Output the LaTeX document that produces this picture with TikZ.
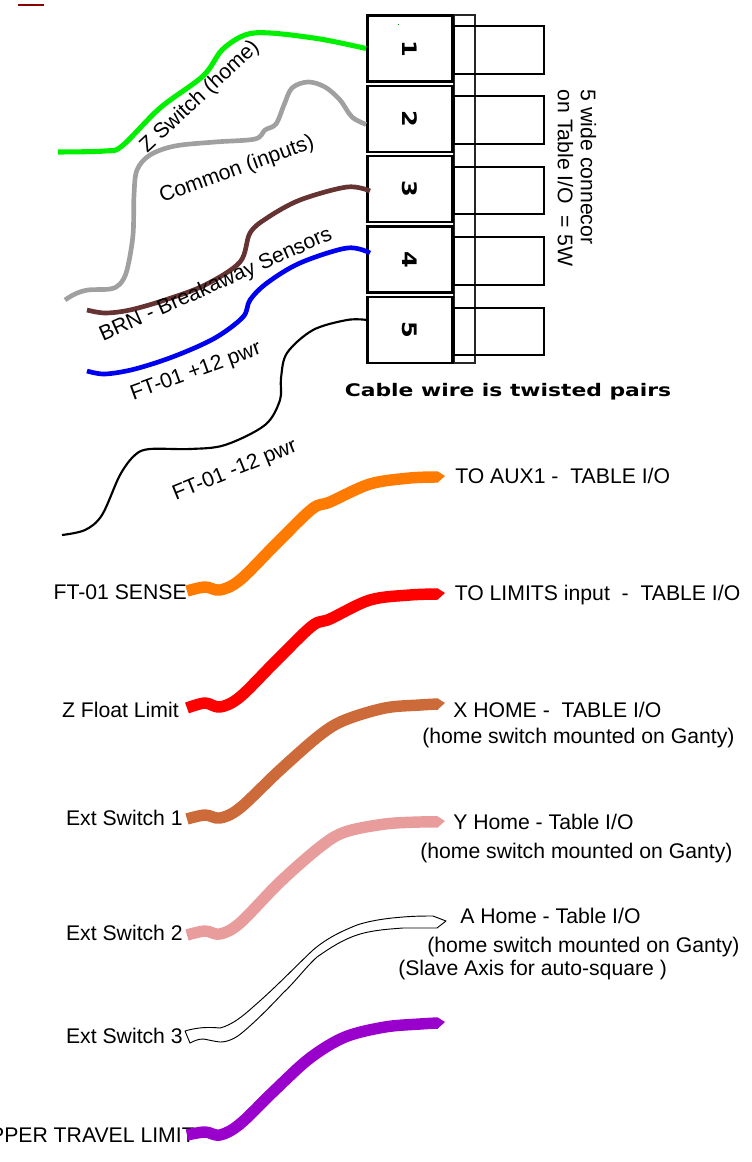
\documentclass[tikz,border=0pt]{standalone}
\usepackage{fontspec}
\setmainfont{Liberation Sans}
\newfontfamily\widefont{DejaVu Sans}
\definecolor{wgreen}{HTML}{00F000}
\definecolor{wgray}{HTML}{A0A0A0}
\definecolor{wbrown}{HTML}{663333}
\definecolor{wblue}{HTML}{0000F0}
\definecolor{worange}{HTML}{FF7A00}
\definecolor{wred}{HTML}{FF0000}
\definecolor{wcopper}{HTML}{CC6B39}
\definecolor{wpink}{HTML}{E99C9C}
\definecolor{wpurple}{HTML}{9900CC}
\tikzset{
  numbox/.style={draw=black,line width=1.9pt,fill=white,minimum width=64pt,minimum height=49.5pt,inner sep=0pt,font=\widefont\bfseries\fontsize{15}{17}\selectfont},
  pinbox/.style={draw=black,line width=1.5pt,minimum width=67.5pt,minimum height=35.5pt,inner sep=0pt},
  shellbox/.style={draw=black!85,line width=1.5pt,minimum width=15.5pt,minimum height=261pt,inner sep=0pt},
  thinwire/.style={line width=3.5pt,line cap=butt,line join=round},
  fatwire/.style={line width=8.6pt,line cap=butt,line join=round},
  lbl/.style={inner sep=0pt,font=\fontsize{15.9}{18}\selectfont},
  lblr/.style={lbl,anchor=east},
  lbll/.style={lbl,anchor=west},
}
\begin{document}
\begin{tikzpicture}[x=0.75pt,y=-0.75pt]
\useasboundingbox (0,0) rectangle (751,1162);
% mark top-left
\draw[color=red!55!black,line width=1.5pt] (18,5) -- (44,5);
% connector
\node[shellbox] (shell) at (464.5,189) {};
\foreach \i/\y in {p1/50,p2/120,p3/190.5,p4/261,p5/331.5}
  \node[pinbox] (\i) at (499,\y) {};
\node[numbox] (b1) at (410,48.5) {\rotatebox{-90}{\scalebox{1.2}[1]{1}}};
\node[numbox] (b2) at (410,119) {\rotatebox{-90}{\scalebox{1.2}[1]{2}}};
\node[numbox] (b3) at (410,189) {\rotatebox{-90}{\scalebox{1.2}[1]{3}}};
\node[numbox] (b4) at (410,259.5) {\rotatebox{-90}{\scalebox{1.2}[1]{4}}};
\node[numbox] (b5) at (410,330) {\rotatebox{-90}{\scalebox{1.2}[1]{5}}};
\fill[green!60!black] (397.5,24.5) rectangle (398.5,25.5);
% free ends
\coordinate (g0) at (58,152);
\coordinate (s0) at (65,300);
\coordinate (r0) at (87,310);
\coordinate (u0) at (87,371);
\coordinate (k0) at (62,535);
% upper wires
\draw[thinwire,wgreen,line width=3.8pt] plot[smooth,tension=0.55] coordinates {(g0) (105,151) (122,146) (160,108) (203,76) (222,50) (245,35) (270,33) (320,39) (b1.west)};
\draw[thinwire,wgray] plot[smooth,tension=0.55] coordinates {(s0) (75,294) (88,290) (110,289) (120,284) (127,270) (133,235) (134,195) (137,170) (150,155) (175,146) (215,142) (255,139) (265,130) (276,124) (284,105) (292,88) (308,82) (325,87) (340,100) (352,117) (b2.187)};
\draw[thinwire,wbrown] plot[smooth,tension=0.55] coordinates {(r0) (105,313) (130,310) (165,300) (205,285) (240,262) (250,233) (267,218) (300,200) (347,187) (370,191)};
\draw[thinwire,wblue] plot[smooth,tension=0.55] coordinates {(u0) (105,374) (135,369) (175,356) (215,338) (243,317) (250,300) (267,283) (300,263) (347,248) (370,253)};
\draw[black,line width=1.6pt] plot[smooth,tension=0.55] coordinates {(k0) (85,530) (102,515) (120,475) (135,455) (150,449) (190,449) (225,445) (265,425) (280,400) (281,378) (287,353) (313,330) (347,320) (b5.167)};
% left and right labels of the fat wires
\node[lblr] (tl1) at (187,592) {FT-01 SENSE};
\node[lblr] (tl2) at (179,710) {Z Float Limit};
\node[lblr] (tl3) at (183,818) {Ext Switch 1};
\node[lblr] (tl4) at (183,933) {Ext Switch 2};
\node[lblr] (tl5) at (183,1036) {Ext Switch 3};
\node[lblr] (tl6) at (195,1135) {UPPER TRAVEL LIMIT};
\node[lbll] (tr1) at (455,476) {TO AUX1 -\ \ TABLE I/O};
\node[lbll] (tr2) at (454.5,595) {TO LIMITS input \ -\ \ TABLE I/O};
\node[lbll] (tr3) at (453,710) {X HOME - \ TABLE I/O};
\node[lbll] (tr3b) at (422,738) {(home switch mounted on Ganty)};
\node[lbll] (tr4) at (453,822) {Y Home - Table I/O};
\node[lbll] (tr4b) at (420,853) {(home switch mounted on Ganty)};
\node[lbll] (tr5) at (460,916) {A Home - Table I/O};
\node[lbll] (tr5b) at (427,947) {(home switch mounted on Ganty)};
\node[lbll] (tr5c) at (398,970) {(Slave Axis for auto-square )};
% fat wires
\coordinate (f1a) at (187,591); \coordinate (f1b) at (438,477);
\coordinate (f2a) at (187,708); \coordinate (f2b) at (438,594);
\coordinate (f3a) at (187,819); \coordinate (f3b) at (438,704);
\coordinate (f4a) at (187,935); \coordinate (f4b) at (438,822);
\coordinate (f6a) at (187,1135); \coordinate (f6b) at (438,1023);
\draw[fatwire,worange] plot[smooth,tension=0.55] coordinates {(f1a) (205,587) (220,590) (240,580) (275,545) (312,509) (330,502) (370,484) (410,478) (f1b)};
\fill[worange] (437.5,471.3) -- (445,476) -- (437.5,482.7) -- cycle;
\draw[fatwire,wred] plot[smooth,tension=0.55] coordinates {(f2a) (205,703) (220,707) (240,697) (275,662) (312,626) (330,619) (370,600) (410,595) (f2b)};
\fill[wred] (437.5,588.3) -- (445,593) -- (437.5,599.7) -- cycle;
\draw[fatwire,wcopper] plot[smooth,tension=0.55] coordinates {(f3a) (205,815) (220,818) (240,808) (280,770) (320,735) (345,720) (385,708) (420,705) (f3b)};
\fill[wcopper] (437.5,698.3) -- (445,703) -- (437.5,709.7) -- cycle;
\draw[fatwire,wpink] plot[smooth,tension=0.55] coordinates {(f4a) (205,931) (220,934) (240,923) (280,882) (320,847) (345,832) (385,824) (420,822) (f4b)};
\fill[wpink] (437.5,816.3) -- (445,821) -- (437.5,827.7) -- cycle;
\draw[fatwire,wpurple] plot[smooth,tension=0.55] coordinates {(f6a) (205,1132) (220,1135) (240,1124) (275,1090) (310,1058) (345,1037) (385,1027) (420,1024) (f6b)};
\fill[wpurple] (437.5,1017.3) -- (445,1022) -- (437.5,1028.7) -- cycle;
% outlined white wire
\draw[black,fill=white,line width=0.7pt,line join=round]
  (185,1031) .. controls (198,1027) and (210,1027) .. (220,1028)
  .. controls (232,1025) and (243,1016) .. (253,1007)
  .. controls (275,988) and (295,967) .. (313,950)
  .. controls (327,938) and (342,931) .. (357,925)
  .. controls (372,920) and (390,918) .. (403,917)
  .. controls (415,916) and (425,916) .. (433,916)
  -- (446,921) -- (437,928)
  .. controls (425,928) and (415,928) .. (403,928)
  .. controls (390,929) and (372,930) .. (357,935)
  .. controls (342,940) and (330,948) .. (317,957)
  .. controls (305,968) and (295,982) .. (283,993)
  .. controls (270,1007) and (256,1021) .. (243,1032)
  .. controls (235,1039) and (227,1042) .. (220,1042)
  .. controls (212,1041) and (205,1039) .. (203,1039)
  .. controls (198,1039) and (194,1041) .. (190,1043) -- cycle;
% rotated labels
\node[lbl,rotate=43] (lz) at (200,97) {Z Switch (home)};
\node[lbl,rotate=20] (lc) at (237,170) {Common (inputs)};
\node[lbl,rotate=24] (lb) at (216,285) {BRN - Breakaway Sensors};
\node[lbl,rotate=20] (lp) at (196,372) {FT-01 +12 pwr};
\node[lbl,rotate=22] (lm) at (235,471) {FT-01 -12 pwr};
\node[lbl,rotate=-90,align=left,font=\fontsize{15.9}{17.3}\selectfont] (lv) at (577,178) {5 wide connecor\\on Table I/O \ = 5W};
\node[inner sep=0pt,font=\widefont\bfseries\fontsize{13}{15}\selectfont] (lt) at (508,392) {\scalebox{1.26}[1]{Cable wire is twisted pairs}};
\end{tikzpicture}
\end{document}
